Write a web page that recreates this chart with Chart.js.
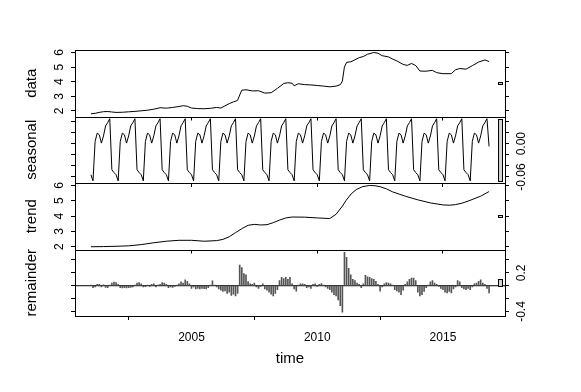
<!DOCTYPE html>
<html><head><meta charset="utf-8">
<script src="https://cdn.jsdelivr.net/npm/chart.js@4.4.0/dist/chart.umd.min.js"></script>
<style>
html,body{margin:0;padding:0;background:#fff;}
#wrap{position:relative;width:581px;height:392px;background:#fff;}
#wrap canvas{position:absolute;left:0;top:0;}
</style></head><body>
<div id="wrap">
<canvas id="c0" width="581" height="392"></canvas>
<canvas id="c1" width="581" height="392"></canvas>
<canvas id="c2" width="581" height="392"></canvas>
<canvas id="c3" width="581" height="392"></canvas>
</div>
<script>
// ---------- DATA (monthly series start Jan 2001) ----------
const startYear = 2001;
const panelNames = ['data', 'seasonal', 'trend', 'remainder'];
const yearTicks = [2005, 2010, 2015];
const yearLabels = ['2005', '2010', '2015'];
const xTitle = 'time';

// observed data (time, value)
const dataPoints = [
 [2001.00,1.80],[2001.17,1.84],[2001.33,1.90],[2001.50,1.95],[2001.67,1.96],[2001.83,1.93],
 [2002.00,1.90],[2002.25,1.91],[2002.50,1.94],[2002.75,1.97],[2003.00,2.01],[2003.25,2.05],
 [2003.50,2.12],[2003.75,2.22],[2004.00,2.19],[2004.25,2.24],[2004.50,2.30],[2004.67,2.36],
 [2004.83,2.32],[2005.00,2.20],[2005.25,2.16],[2005.50,2.15],[2005.75,2.18],[2006.00,2.24],
 [2006.17,2.20],[2006.33,2.35],[2006.50,2.50],[2006.67,2.62],[2006.83,2.72],[2006.92,3.10],
 [2007.00,3.42],[2007.17,3.45],[2007.42,3.37],[2007.67,3.38],[2007.92,3.22],[2008.17,3.25],
 [2008.42,3.55],[2008.67,3.88],[2008.83,3.93],[2009.00,3.90],[2009.08,3.72],[2009.25,3.86],
 [2009.50,3.80],[2009.75,3.78],[2010.00,3.74],[2010.25,3.70],[2010.50,3.65],[2010.75,3.70],
 [2010.92,3.80],[2011.00,4.05],[2011.08,5.00],[2011.17,5.33],[2011.33,5.36],[2011.50,5.50],
 [2011.67,5.65],[2011.83,5.72],[2012.00,5.88],[2012.25,6.00],[2012.42,5.95],[2012.58,5.78],
 [2012.83,5.70],[2013.00,5.55],[2013.17,5.42],[2013.42,5.18],[2013.58,5.12],[2013.75,5.25],
 [2013.92,5.10],[2014.08,4.73],[2014.33,4.72],[2014.58,4.78],[2014.75,4.62],[2015.00,4.55],
 [2015.33,4.55],[2015.50,4.82],[2015.67,4.90],[2015.92,4.86],[2016.17,5.10],[2016.42,5.35],
 [2016.67,5.49],[2016.83,5.38]
];

// trend component (time, value)
const trendPoints = [
 [2001.00,2.00],[2001.50,2.01],[2002.00,2.03],[2002.50,2.06],[2003.00,2.14],[2003.50,2.26],
 [2004.00,2.36],[2004.50,2.42],[2005.00,2.42],[2005.50,2.36],[2006.00,2.40],[2006.25,2.48],
 [2006.50,2.65],[2006.75,2.92],[2007.00,3.18],[2007.25,3.40],[2007.50,3.46],[2007.75,3.42],
 [2008.00,3.44],[2008.25,3.57],[2008.50,3.74],[2008.75,3.88],[2009.00,3.94],[2009.50,3.93],
 [2010.00,3.88],[2010.50,3.84],[2010.75,4.12],[2011.00,4.65],[2011.15,5.03],[2011.35,5.45],
 [2011.55,5.73],[2011.80,5.92],[2012.08,6.00],[2012.30,5.98],[2012.50,5.92],[2012.75,5.78],
 [2013.00,5.58],[2013.50,5.30],[2014.00,5.06],[2014.50,4.86],[2015.00,4.73],[2015.25,4.71],
 [2015.50,4.75],[2015.75,4.84],[2016.00,4.98],[2016.50,5.30],[2016.83,5.60]
];

// seasonal component, monthly, Jan 2001 .. Nov 2016
const seasonal = [
 -0.056,-0.067,0.004,0.019,0.016,0.001,0.014,0.032,0.038,0.045,-0.047,-0.052,
 -0.056,-0.067,0.004,0.019,0.016,0.001,0.014,0.032,0.038,0.045,-0.047,-0.052,
 -0.056,-0.067,0.004,0.019,0.016,0.001,0.014,0.032,0.038,0.045,-0.047,-0.052,
 -0.056,-0.067,0.004,0.019,0.016,0.001,0.014,0.032,0.038,0.045,-0.047,-0.052,
 -0.056,-0.067,0.004,0.019,0.016,0.001,0.014,0.032,0.038,0.045,-0.047,-0.052,
 -0.056,-0.067,0.004,0.019,0.016,0.001,0.014,0.032,0.038,0.045,-0.047,-0.052,
 -0.056,-0.067,0.004,0.019,0.016,0.001,0.014,0.032,0.038,0.045,-0.047,-0.052,
 -0.056,-0.067,0.004,0.019,0.016,0.001,0.014,0.032,0.038,0.045,-0.047,-0.052,
 -0.056,-0.067,0.004,0.019,0.016,0.001,0.014,0.032,0.038,0.045,-0.047,-0.052,
 -0.056,-0.067,0.004,0.019,0.016,0.001,0.014,0.032,0.038,0.045,-0.047,-0.052,
 -0.056,-0.067,0.004,0.019,0.016,0.001,0.014,0.032,0.038,0.045,-0.047,-0.052,
 -0.056,-0.067,0.004,0.019,0.016,0.001,0.014,0.032,0.038,0.045,-0.047,-0.052,
 -0.056,-0.067,0.004,0.019,0.016,0.001,0.014,0.032,0.038,0.045,-0.047,-0.052,
 -0.056,-0.067,0.004,0.019,0.016,0.001,0.014,0.032,0.038,0.045,-0.047,-0.052,
 -0.056,-0.067,0.004,0.019,0.016,0.001,0.014,0.032,0.038,0.045,-0.047,-0.052,
 -0.056,-0.067,0.004,0.019,0.016,0.001,0.014,0.032,0.038,0.045,-0.005
];

// remainder component, monthly, Jan 2001 .. Nov 2016
const remainder = [
 0.01,-0.03,-0.02,0.02,0.02,-0.02,0.015,-0.025,-0.03,0.01,
 0.04,0.055,0.05,0.02,-0.03,-0.035,-0.03,-0.035,-0.03,-0.025,
 -0.02,0.01,0.04,0.05,0.03,-0.02,-0.015,0.01,-0.01,0.02,
 0.03,-0.02,0.01,0.02,0.05,0.04,0.02,-0.03,-0.02,-0.025,
 -0.01,0.01,0.03,0.06,0.04,0.09,0.07,0.03,-0.04,-0.02,
 -0.05,-0.04,-0.05,-0.04,-0.045,-0.05,-0.03,0.01,0.075,0.01,
 -0.02,-0.05,-0.07,-0.09,-0.08,-0.12,-0.10,-0.15,-0.13,-0.16,
 -0.12,0.32,0.28,0.19,0.17,0.065,0.03,0.02,0.04,-0.02,
 -0.04,-0.01,0.03,-0.05,-0.07,-0.10,-0.13,-0.16,-0.12,-0.06,
 0.08,0.13,0.11,0.13,0.10,0.13,0.03,-0.05,-0.085,0.01,
 0.03,0.03,0.02,-0.03,-0.02,-0.04,0.02,0.03,-0.01,0.02,
 0.035,0.01,-0.02,-0.04,-0.06,-0.10,-0.14,-0.16,-0.22,-0.31,
 -0.41,0.52,0.44,0.27,0.17,0.10,0.08,0.04,0.02,-0.03,
 0.03,0.16,0.14,0.13,0.11,0.10,0.07,0.02,-0.085,-0.02,
 0.03,0.05,0.04,0.03,0.01,-0.06,-0.08,-0.10,-0.14,-0.07,
 0.02,0.06,0.10,0.12,0.12,0.08,-0.10,-0.16,-0.14,-0.09,
 -0.03,0.01,0.06,0.08,0.04,0.02,-0.01,-0.04,-0.06,-0.10,
 -0.11,-0.09,-0.11,-0.05,-0.02,0.08,0.06,-0.03,-0.05,-0.06,
 -0.04,-0.06,-0.02,0.03,0.04,0.07,0.09,0.04,0.02,-0.04,-0.11
];

// axis ticks and labels
const dataTicks = [2, 3, 4, 5, 6];
const dataTickLabels = ['2', '3', '4', '5', '6'];
const seasonalTicks = [-0.06, -0.04, -0.02, 0, 0.02, 0.04];
const seasonalTickLabels = ['-0.06', '', '', '0.00', '', ''];
const trendTicks = [2, 3, 4, 5, 6];
const trendTickLabels = ['2', '3', '4', '5', '6'];
const remainderTicks = [-0.4, -0.2, 0, 0.2, 0.4];
const remainderTickLabels = ['-0.4', '', '', '0.2', ''];

// ---------- LAYOUT / STYLE ----------
const W = 581, H = 392;
const X_MIN = 2000.367, X_MAX = 2017.467;
const FONT = "'Liberation Sans', Arial, Helvetica, sans-serif";
Chart.defaults.font.family = FONT;
Chart.defaults.color = '#000';

const monthTimes = seasonal.map((_, i) => startYear + i / 12);
const toXY = arr => arr.map(p => ({x: p[0], y: p[1]}));
const seriesXY = vals => vals.map((v, i) => ({x: monthTimes[i], y: v}));

// range bars (as in R's plot.stl): common length = smallest component range
const ranges = [
  dataPoints.map(p => p[1]), seasonal, trendPoints.map(p => p[1]), remainder
].map(a => [Math.min(...a), Math.max(...a)]);
const barLen = Math.min(...ranges.map(r => r[1] - r[0]));

const boxPlugin = {
  id: 'rbox',
  afterDraw(chart, args, o) {
    const {ctx, chartArea: a, scales} = chart;
    ctx.save();
    // range bar
    const dx = (X_MAX - X_MIN) / 64;
    const xa = Math.round(scales.x.getPixelForValue(X_MAX - dx)) + 0.5;
    const xb = Math.round(scales.x.getPixelForValue(X_MAX - 0.4 * dx)) + 0.5;
    const mid = (o.range[0] + o.range[1]) / 2;
    let ya = scales.y.getPixelForValue(mid + barLen / 2);
    let yb = scales.y.getPixelForValue(mid - barLen / 2);
    if (yb - ya < 2) { const c = (ya + yb) / 2; ya = c - 1; yb = c + 1; }
    ya = Math.round(ya) + 0.5; yb = Math.round(yb) + 0.5;
    ctx.fillStyle = '#d3d3d3';
    ctx.strokeStyle = '#000';
    ctx.lineWidth = 1;
    ctx.fillRect(xa, ya, xb - xa, yb - ya);
    ctx.strokeRect(xa, ya, xb - xa, yb - ya);
    // box
    ctx.strokeRect(Math.round(a.left) + 0.5, Math.round(a.top) + 0.5,
      Math.round(a.right) - Math.round(a.left), Math.round(a.bottom) - Math.round(a.top));
    // rotated tick labels
    ctx.fillStyle = '#000';
    ctx.font = '12px ' + FONT;
    ctx.textAlign = 'center';
    ctx.textBaseline = 'middle';
    o.ticks.forEach((v, i) => {
      const t = o.labels[i];
      if (!t) return;
      const py = scales.y.getPixelForValue(v);
      ctx.save();
      ctx.translate(o.labelX, py);
      ctx.rotate(-Math.PI / 2);
      ctx.fillText(t, 0, 0);
      ctx.restore();
    });
    ctx.restore();
  }
};

const panels = [
  {id: 'c0', top: 50, bottom: 116.5, min: 1.62, max: 6.17, ticks: dataTicks, labels: dataTickLabels, side: 'left',
   kind: 'line', values: toXY(dataPoints), range: ranges[0]},
  {id: 'c1', top: 116.5, bottom: 183, min: -0.0709, max: 0.049, ticks: seasonalTicks, labels: seasonalTickLabels, side: 'right',
   kind: 'line', values: seriesXY(seasonal), range: ranges[1]},
  {id: 'c2', top: 183, bottom: 249.5, min: 1.82, max: 6.16, ticks: trendTicks, labels: trendTickLabels, side: 'left',
   kind: 'line', values: toXY(trendPoints), range: ranges[2]},
  {id: 'c3', top: 249.5, bottom: 316, min: -0.47, max: 0.5625, ticks: remainderTicks, labels: remainderTickLabels, side: 'right',
   kind: 'bar', values: seriesXY(remainder), range: ranges[3]}
];

panels.forEach((p, idx) => {
  const last = idx === panels.length - 1;
  const XH = last ? 60 : 10;
  const tickFn = s => { s.ticks = p.ticks.map(v => ({value: v})); };
  const gridOpt = {display: true, drawOnChartArea: false, drawTicks: true, tickLength: 4, color: '#000', lineWidth: 1};
  const datasets = [];
  if (p.kind === 'line') {
    datasets.push({type: 'line', data: p.values, borderColor: '#000', borderWidth: 1, pointRadius: 0, tension: 0, fill: false});
  } else {
    datasets.push({type: 'bar', data: p.values, backgroundColor: '#555', borderWidth: 0, barThickness: 1});
    datasets.push({type: 'line', data: [{x: X_MIN, y: 0}, {x: X_MAX, y: 0}], borderColor: '#000', borderWidth: 1, pointRadius: 0});
  }
  new Chart(document.getElementById(p.id), {
    data: {datasets},
    options: {
      responsive: false, animation: false, devicePixelRatio: 1,
      events: [],
      layout: {padding: {top: p.top, bottom: H - p.bottom - XH, left: 0, right: 0}},
      plugins: {
        legend: {display: false}, tooltip: {enabled: false},
        rbox: {ticks: p.ticks, labels: p.labels, labelX: p.side === 'left' ? 60 : 522, range: p.range}
      },
      scales: {
        x: {
          type: 'linear', position: 'bottom', min: X_MIN, max: X_MAX, offset: false,
          afterBuildTicks: s => { s.ticks = yearTicks.map(v => ({value: v})); },
          afterFit: s => { s.height = XH; },
          grid: gridOpt, border: {display: false},
          ticks: {display: last, autoSkip: false, maxRotation: 0, padding: 10,
                  font: {size: 12}, callback: (v) => yearLabels[yearTicks.indexOf(v)] ?? ''},
          title: {display: last, text: xTitle, font: {size: 15}, padding: {top: 0, bottom: 8}}
        },
        y: {
          type: 'linear', position: 'left', min: p.min, max: p.max,
          afterBuildTicks: tickFn, afterFit: s => { s.width = 75; },
          grid: gridOpt, border: {display: false}, ticks: {display: false},
          title: {display: true, text: panelNames[idx], font: {size: 15}, padding: {top: 23, bottom: 0}}
        },
        y2: {
          type: 'linear', position: 'right', min: p.min, max: p.max,
          afterBuildTicks: tickFn, afterFit: s => { s.width = W - 505; },
          grid: gridOpt, border: {display: false}, ticks: {display: false}
        }
      }
    },
    plugins: [boxPlugin]
  });
});
</script>
</body></html>
